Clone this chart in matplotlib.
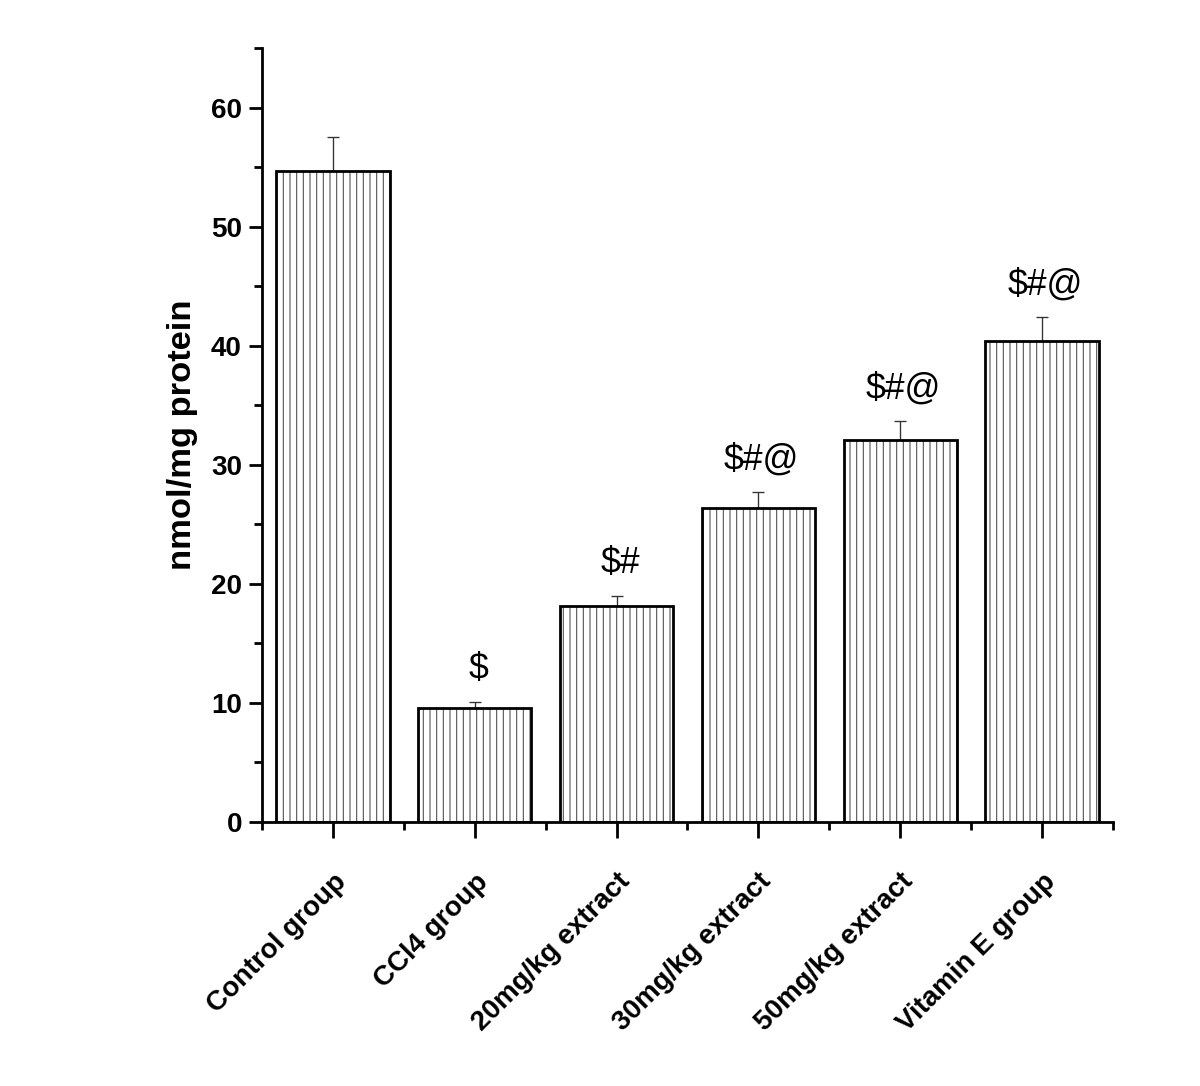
import numpy as np
import matplotlib
matplotlib.use("Agg")
import matplotlib.pyplot as plt
from matplotlib.ticker import MultipleLocator

plt.rcParams['font.family'] = ['Liberation Sans', 'DejaVu Sans']
plt.rcParams['hatch.linewidth'] = 1.0

groups = ['Control group', 'CCl4 group', '20mg/kg extract',
          '30mg/kg extract', '50mg/kg extract', 'Vitamin E group']
means = [54.7, 9.6, 18.1, 26.4, 32.1, 40.4]
errors = [2.8, 0.5, 0.9, 1.3, 1.6, 2.0]
marks = ['', '$', '$#', '$#@', '$#@', '$#@']

# dpi 80 so the hatch spacing comes out close to the original
fig = plt.figure(figsize=(15, 13.575), dpi=80)
ax = fig.add_axes([0.2183, 0.2431, 0.7092, 0.7127])

x = np.arange(len(groups))
# hatch layer (grey lines), then black outline on top
ax.bar(x, means, 0.8, color='white', edgecolor='#555555', linewidth=0,
       hatch='||', zorder=2)
ax.bar(x, means, 0.8, color='none', edgecolor='black', linewidth=2.5, zorder=3)
ax.errorbar(x, means, yerr=[np.zeros(len(errors)), errors], fmt='none',
            ecolor='#333333', elinewidth=1.2, capsize=5.5, capthick=1.2,
            zorder=1)

for xi, m, e, s in zip(x, means, errors, marks):
    if s:
        ax.annotate(s, (xi, m + e), xytext=(3, 13), textcoords='offset points',
                    ha='center', va='bottom', fontsize=32, annotation_clip=False,
                    parse_math=False)

ax.set_xlim(-0.5, 5.5)
ax.set_ylim(0, 65)
ax.yaxis.set_major_locator(MultipleLocator(10))
ax.yaxis.set_minor_locator(MultipleLocator(5))
ax.set_xticks(x)
ax.set_xticks(np.arange(-0.5, 6, 1), minor=True)
ax.set_xticklabels(groups, rotation=45, ha='right', rotation_mode='anchor',
                   fontsize=25, fontweight='bold')
for lab in ax.get_yticklabels():
    lab.set_fontweight('bold')
ax.tick_params(axis='y', labelsize=25, pad=6)
ax.tick_params(axis='y', which='major', length=12, width=2.5, direction='out')
ax.tick_params(axis='y', which='minor', length=7, width=2.5, direction='out')
ax.tick_params(axis='x', which='major', length=14, width=2.5, direction='out',
               pad=28)
ax.tick_params(axis='x', which='minor', length=7, width=2.5, direction='out')

ax.spines['top'].set_visible(False)
ax.spines['right'].set_visible(False)
ax.spines['left'].set_linewidth(2.5)
ax.spines['bottom'].set_linewidth(2.5)

ax.set_ylabel('nmol/mg protein', fontsize=31, fontweight='bold', labelpad=12)

fig.savefig('out.png', dpi=80)
